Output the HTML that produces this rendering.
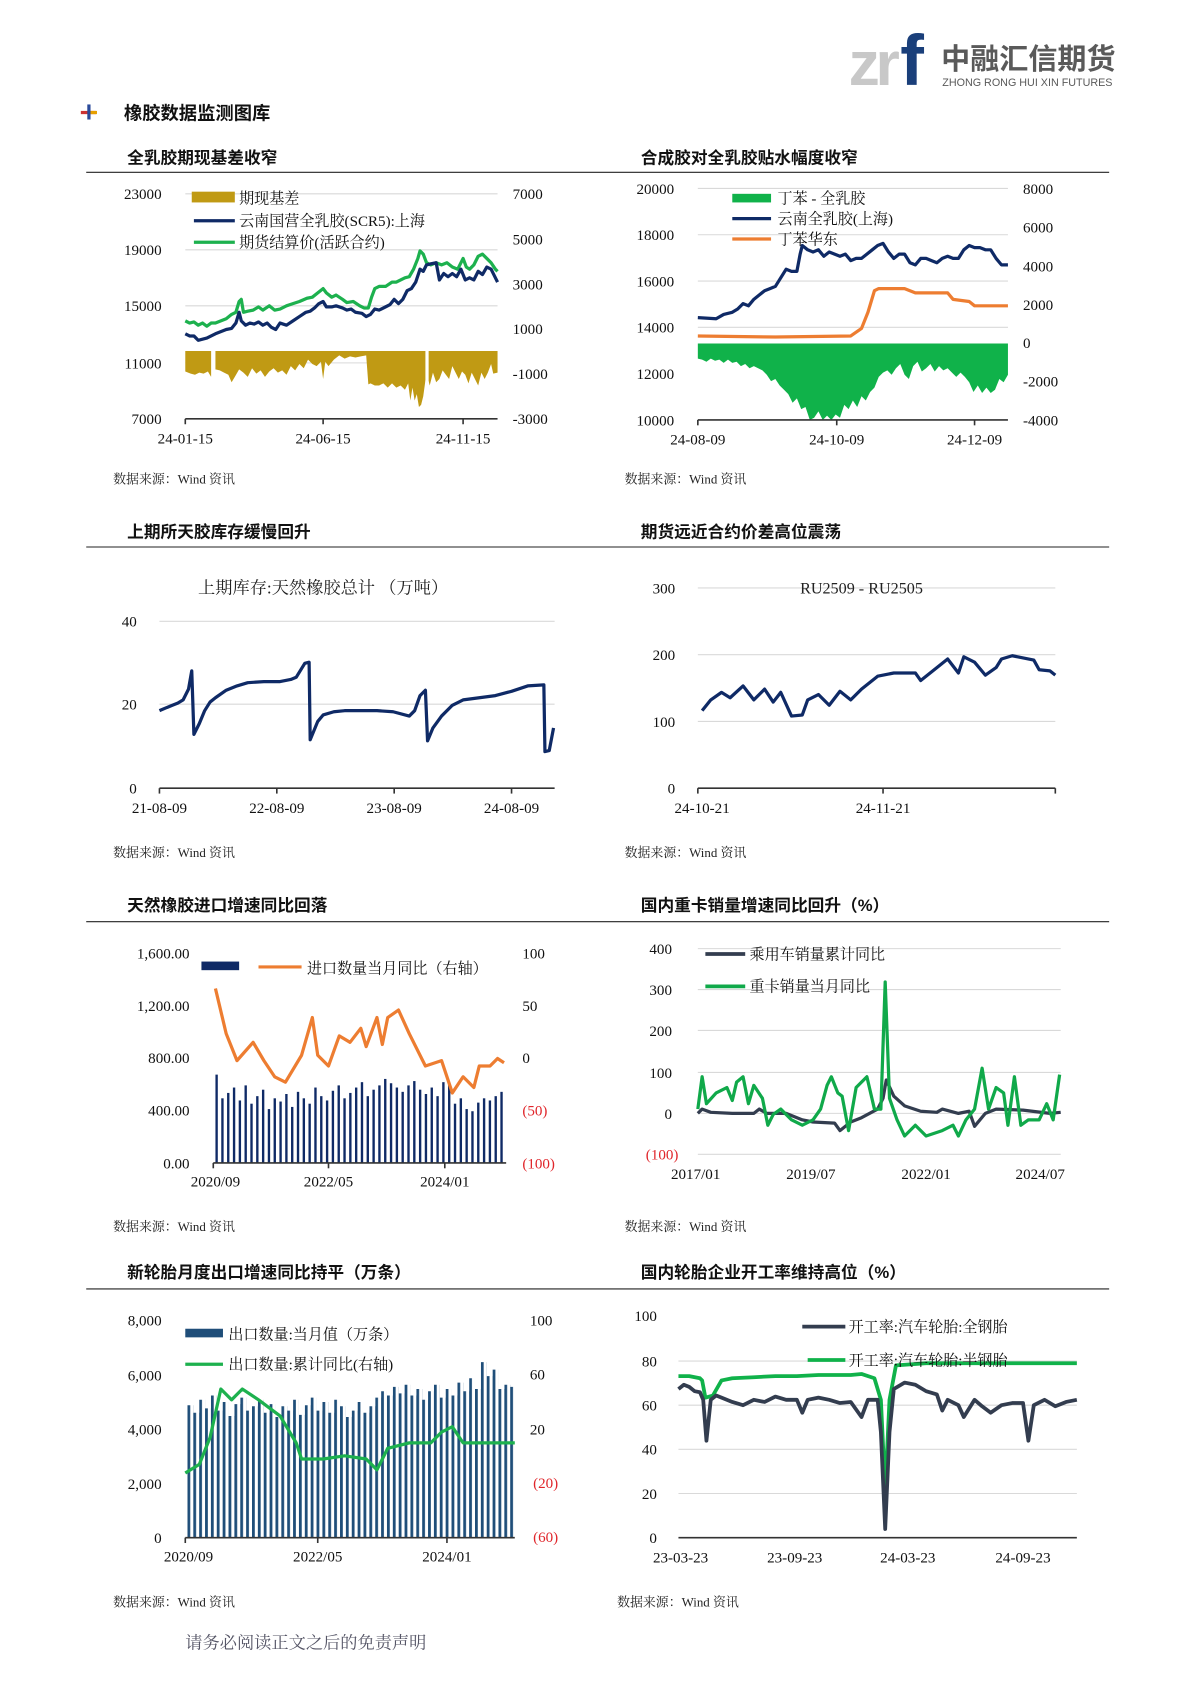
<!DOCTYPE html>
<html><head><meta charset="utf-8">
<style>
html,body{margin:0;padding:0;background:#fff;}
svg{display:block}
text{font-family:"Liberation Serif","Noto Serif CJK SC",serif;font-size:14px;fill:#111}
.h{font-size:15.5px;font-weight:bold;font-family:"Liberation Sans","Noto Sans CJK SC",sans-serif;fill:#111}
.s{font-size:12px;fill:#222}
.r{fill:#e0252a}
.m{text-anchor:middle}.e{text-anchor:end}
.g line{stroke:#d9d9d9;stroke-width:1}
.ax{stroke:#333;stroke-width:1.5}
polyline{fill:none;stroke-linejoin:round}
</style></head><body>
<svg width="1190" height="1683" viewBox="0 0 1105 1563" xmlns="http://www.w3.org/2000/svg">
<text x="788" y="79" style="font-family:'Liberation Sans',sans-serif;font-size:58px;font-weight:bold;fill:#c8c8c8;letter-spacing:-4px">zr</text>
<text x="836" y="79" style="font-family:'Liberation Sans',sans-serif;font-size:66px;font-weight:bold;fill:#1a3f7a">f</text>
<text x="874" y="64" style="font-family:'Noto Sans CJK SC',sans-serif;font-size:27px;font-weight:bold;fill:#5a5a5a">中融汇信期货</text>
<text x="875" y="80" style="font-family:'Liberation Sans',sans-serif;font-size:10px;fill:#5a5a5a">ZHONG RONG HUI XIN FUTURES</text>
<rect x="75" y="103" width="14" height="3" fill="#c33"/><rect x="81" y="97" width="3" height="14" fill="#2a4a9a"/><rect x="84" y="103" width="6" height="3" fill="#e7a000"/>
<text x="115" y="111" style="font-family:'Noto Sans CJK SC',sans-serif;font-size:17px;font-weight:bold">橡胶数据监测图库</text>
<text class="h" x="118" y="152">全乳胶期现基差收窄</text>
<text class="h" x="595" y="152">合成胶对全乳胶贴水幅度收窄</text>
<line x1="80" y1="160" x2="1030" y2="160" stroke="#222"/>
<text class="h" x="118" y="499">上期所天胶库存缓慢回升</text>
<text class="h" x="595" y="499">期货远近合约价差高位震荡</text>
<line x1="80" y1="508" x2="1030" y2="508" stroke="#222"/>
<text class="h" x="118" y="846">天然橡胶进口增速同比回落</text>
<text class="h" x="595" y="846">国内重卡销量增速同比回升（%）</text>
<line x1="80" y1="856" x2="1030" y2="856" stroke="#222"/>
<text class="h" x="118" y="1187">新轮胎月度出口增速同比持平（万条）</text>
<text class="h" x="595" y="1187">国内轮胎企业开工率维持高位（%）</text>
<line x1="80" y1="1197" x2="1030" y2="1197" stroke="#222"/>
<g class="s">
<text class="s" x="105" y="449">数据来源：Wind 资讯</text><text class="s" x="580" y="449">数据来源：Wind 资讯</text>
<text class="s" x="105" y="796">数据来源：Wind 资讯</text><text class="s" x="580" y="796">数据来源：Wind 资讯</text>
<text class="s" x="105" y="1143">数据来源：Wind 资讯</text><text class="s" x="580" y="1143">数据来源：Wind 资讯</text>
<text class="s" x="105" y="1492">数据来源：Wind 资讯</text><text class="s" x="573" y="1492">数据来源：Wind 资讯</text>
</g>
<text x="172" y="1531" style="font-size:16px;fill:#556">请务必阅读正文之后的免责声明</text>

<!-- CHART 1 -->
<g class="g"><line x1="172" y1="180" x2="462" y2="180"/><line x1="172" y1="232" x2="462" y2="232"/><line x1="172" y1="284" x2="462" y2="284"/><line x1="172" y1="337" x2="462" y2="337"/></g>
<text class="e" x="150" y="185">23000</text><text class="e" x="150" y="237">19000</text><text class="e" x="150" y="289">15000</text><text class="e" x="150" y="342">11000</text><text class="e" x="150" y="394">7000</text>
<text x="476" y="185">7000</text><text x="476" y="227">5000</text><text x="476" y="269">3000</text><text x="476" y="310">1000</text><text x="476" y="352">-1000</text><text x="476" y="394">-3000</text>
<polygon fill="#C09A14" points="172,326 462,326 462,346 458,347 456,338 453,346 450,352 447,346 444,358 441,352 438,346 435,356 432,348 429,345 426,352 423,346 420,340 417,352 414,348 411,344 408,352 405,355 402,346 399,358 396,346 393,368 391,376 389,378 387,366 385,372 383,360 381,372 379,356 376,362 372,358 368,360 364,356 360,360 356,356 352,358 348,358 344,356 342,357 340,330 335,331 330,332 325,331 320,333 315,330 310,334 305,340 302,336 300,352 298,336 294,340 290,338 286,334 282,342 278,338 274,344 270,340 266,348 262,344 258,346 254,342 250,345 246,350 242,344 238,347 234,342 230,350 226,346 222,343 218,350 215,355 212,348 208,346 204,344 200,343 196,350 193,345 189,347 185,346 181,348 177,347 172,345"/>
<rect x="196" y="324" width="4" height="40" fill="#fff"/><rect x="395" y="324" width="3" height="40" fill="#fff"/>
<polyline stroke="#1DB14E" stroke-width="3" points="172,298 176,300 180,299 184,302 188,300 192,303 196,300 200,300 205,298 210,296 215,292 219,290 222,280 224,278 226,290 230,289 235,288 240,285 244,288 250,284 255,288 260,287 266,284 272,282 278,280 285,277 290,276 295,272 300,268 303,272 308,276 312,274 318,278 322,281 328,280 334,284 338,286 342,286 345,276 348,268 352,266 358,266 364,262 368,262 372,260 376,258 380,257 384,250 388,240 390,233 393,236 396,244 400,246 405,244 410,246 415,244 420,248 425,250 430,240 433,248 436,250 440,246 444,238 448,236 452,240 456,244 460,250 462,252"/>
<polyline stroke="#0F2A66" stroke-width="3" points="172,310 176,312 180,312 184,316 188,315 192,314 196,312 200,310 205,308 210,306 215,305 219,300 222,290 224,298 228,302 232,300 236,301 240,299 244,302 248,300 252,304 256,306 260,300 266,302 272,298 278,294 284,290 288,289 292,286 296,282 300,280 303,285 308,285 312,284 318,286 322,288 326,287 330,290 336,291 340,294 344,292 348,287 352,288 358,285 362,283 366,278 370,282 374,278 378,270 382,268 386,262 390,250 393,252 396,246 400,245 405,244 408,260 412,254 416,257 420,254 424,257 428,250 432,260 436,258 440,260 444,252 448,255 452,248 456,250 460,258 462,262"/>
<line class="ax" x1="172" y1="389" x2="462" y2="389"/><line class="ax" x1="172" y1="389" x2="172" y2="394"/><line class="ax" x1="300" y1="389" x2="300" y2="394"/><line class="ax" x1="430" y1="389" x2="430" y2="394"/>
<text class="m" x="172" y="412">24-01-15</text><text class="m" x="300" y="412">24-06-15</text><text class="m" x="430" y="412">24-11-15</text>
<rect x="178" y="178" width="40" height="10" fill="#C09A14"/><text x="222" y="189">期现基差</text>
<line x1="180" y1="205" x2="218" y2="205" stroke="#0F2A66" stroke-width="3"/><text x="222" y="210">云南国营全乳胶(SCR5):上海</text>
<line x1="180" y1="225" x2="218" y2="225" stroke="#1DB14E" stroke-width="3"/><text x="222" y="230">期货结算价(活跃合约)</text>

<!-- CHART 2 -->
<g class="g"><line x1="648" y1="175" x2="936" y2="175"/><line x1="648" y1="218" x2="936" y2="218"/><line x1="648" y1="261" x2="936" y2="261"/><line x1="648" y1="304" x2="936" y2="304"/></g>
<text class="e" x="626" y="180">20000</text><text class="e" x="626" y="223">18000</text><text class="e" x="626" y="266">16000</text><text class="e" x="626" y="309">14000</text><text class="e" x="626" y="352">12000</text><text class="e" x="626" y="395">10000</text>
<text x="950" y="180">8000</text><text x="950" y="216">6000</text><text x="950" y="252">4000</text><text x="950" y="288">2000</text><text x="950" y="323">0</text><text x="950" y="359">-2000</text><text x="950" y="395">-4000</text>
<polygon fill="#10B24A" points="648,319 936,319 936,348 932,355 928,352 924,362 920,365 916,360 912,365 908,358 904,364 900,355 896,350 892,346 888,350 884,346 880,342 876,344 872,340 868,345 864,338 860,342 856,345 852,336 848,340 844,352 840,348 836,338 832,342 828,348 824,344 820,346 816,350 812,360 808,364 804,372 800,368 796,378 792,372 788,380 784,376 780,388 776,385 772,390 768,386 764,390 760,382 756,388 752,390 748,378 744,380 740,370 736,374 732,366 728,362 724,358 720,352 716,354 712,348 708,344 704,342 700,340 696,342 692,338 688,340 684,336 680,337 676,334 672,337 668,334 664,335 660,333 656,336 652,334 648,333"/>
<polyline stroke="#ED7D31" stroke-width="3" points="648,312 720,313 790,312 800,305 806,290 812,270 816,268 840,268 850,272 880,272 885,278 900,280 905,284 936,284"/>
<polyline stroke="#0F2A66" stroke-width="3" points="648,295 665,296 672,292 680,290 685,287 690,282 695,284 700,278 705,274 710,270 715,268 720,266 725,258 730,250 735,252 740,252 743,236 745,228 750,232 755,234 760,232 765,238 770,234 775,236 780,238 785,236 790,242 795,240 800,240 805,236 810,232 815,228 820,226 825,234 830,240 835,236 840,236 845,244 850,246 855,240 860,240 865,242 870,244 875,240 880,238 885,240 890,240 895,232 900,228 905,230 910,230 915,232 920,232 925,240 930,246 936,246"/>
<line class="ax" x1="648" y1="390" x2="936" y2="390"/><line class="ax" x1="648" y1="390" x2="648" y2="395"/><line class="ax" x1="777" y1="390" x2="777" y2="395"/><line class="ax" x1="905" y1="390" x2="905" y2="395"/>
<text class="m" x="648" y="413">24-08-09</text><text class="m" x="777" y="413">24-10-09</text><text class="m" x="905" y="413">24-12-09</text>
<rect x="680" y="180" width="36" height="8" fill="#10B24A"/><text x="722" y="189">丁苯 - 全乳胶</text>
<line x1="680" y1="203" x2="716" y2="203" stroke="#0F2A66" stroke-width="3"/><text x="722" y="208">云南全乳胶(上海)</text>
<line x1="680" y1="222" x2="716" y2="222" stroke="#ED7D31" stroke-width="3"/><text x="722" y="227">丁苯华东</text>

<!-- CHART 3 -->
<g class="g"><line x1="148" y1="577" x2="515" y2="577"/><line x1="148" y1="654" x2="515" y2="654"/></g>
<text class="m" x="300" y="551" style="font-size:16px;fill:#222">上期库存:天然橡胶总计  （万吨）</text>
<text class="e" x="127" y="582">40</text><text class="e" x="127" y="659">20</text><text class="e" x="127" y="737">0</text>
<polyline stroke="#0F2A66" stroke-width="3" points="148,660 155,657 160,655 165,653 170,650 175,640 178,623 180,682 185,672 190,660 195,652 200,648 210,641 220,637 230,634 245,633 260,633 270,631 275,629 283,616 287,615 288,687 295,670 300,664 310,661 320,660 335,660 350,660 365,661 380,665 385,660 390,646 395,641 397,688 402,676 410,665 420,655 430,650 445,648 460,646 475,642 490,637 505,636 506,698 510,697 514,676"/>
<line class="ax" x1="148" y1="732" x2="515" y2="732"/><line class="ax" x1="148" y1="732" x2="148" y2="737"/><line class="ax" x1="257" y1="732" x2="257" y2="737"/><line class="ax" x1="366" y1="732" x2="366" y2="737"/><line class="ax" x1="475" y1="732" x2="475" y2="737"/>
<text class="m" x="148" y="755">21-08-09</text><text class="m" x="257" y="755">22-08-09</text><text class="m" x="366" y="755">23-08-09</text><text class="m" x="475" y="755">24-08-09</text>

<!-- CHART 4 -->
<g class="g"><line x1="648" y1="546" x2="980" y2="546"/><line x1="648" y1="608" x2="980" y2="608"/><line x1="648" y1="670" x2="980" y2="670"/></g>
<text class="m" x="800" y="551" style="font-size:15px;fill:#222">RU2509 - RU2505</text>
<text class="e" x="627" y="551">300</text><text class="e" x="627" y="613">200</text><text class="e" x="627" y="675">100</text><text class="e" x="627" y="737">0</text>
<polyline stroke="#0F2A66" stroke-width="3" points="652,660 660,650 670,643 678,648 690,637 700,650 710,640 718,652 725,643 735,665 745,664 750,650 760,645 770,655 780,642 790,650 800,640 815,628 830,625 850,625 855,632 870,620 880,612 890,625 895,610 905,615 915,627 925,620 930,612 940,609 960,613 965,622 975,623 980,627"/>
<line class="ax" x1="648" y1="732" x2="980" y2="732"/><line class="ax" x1="648" y1="732" x2="648" y2="737"/><line class="ax" x1="820" y1="732" x2="820" y2="737"/><line class="ax" x1="980" y1="732" x2="980" y2="737"/>
<text class="m" x="652" y="755">24-10-21</text><text class="m" x="820" y="755">24-11-21</text>

<!-- CHART 5 -->
<text class="e" x="176" y="890">1,600.00</text><text class="e" x="176" y="939">1,200.00</text><text class="e" x="176" y="987">800.00</text><text class="e" x="176" y="1036">400.00</text><text class="e" x="176" y="1085">0.00</text>
<text x="485" y="890">100</text><text x="485" y="939">50</text><text x="485" y="987">0</text><text class="r" x="485" y="1036">(50)</text><text class="r" x="485" y="1085">(100)</text>
<g fill="#0F2A66">
<rect x="200" y="998" width="2.2" height="82"/><rect x="205.4" y="1020" width="2.2" height="60"/><rect x="210.8" y="1015" width="2.2" height="65"/><rect x="216.2" y="1010" width="2.2" height="70"/><rect x="221.6" y="1022" width="2.2" height="58"/><rect x="227" y="1008" width="2.2" height="72"/><rect x="232.4" y="1025" width="2.2" height="55"/><rect x="237.8" y="1018" width="2.2" height="62"/><rect x="243.2" y="1012" width="2.2" height="68"/><rect x="248.6" y="1030" width="2.2" height="50"/>
<rect x="254" y="1020" width="2.2" height="60"/><rect x="259.4" y="1023" width="2.2" height="57"/><rect x="264.8" y="1016" width="2.2" height="64"/><rect x="270.2" y="1028" width="2.2" height="52"/><rect x="275.6" y="1014" width="2.2" height="66"/><rect x="281" y="1020" width="2.2" height="60"/><rect x="286.4" y="1025" width="2.2" height="55"/><rect x="291.8" y="1010" width="2.2" height="70"/><rect x="297.2" y="1018" width="2.2" height="62"/><rect x="302.6" y="1022" width="2.2" height="58"/>
<rect x="308" y="1013" width="2.2" height="67"/><rect x="313.4" y="1008" width="2.2" height="72"/><rect x="318.8" y="1020" width="2.2" height="60"/><rect x="324.2" y="1015" width="2.2" height="65"/><rect x="329.6" y="1010" width="2.2" height="70"/><rect x="335" y="1005" width="2.2" height="75"/><rect x="340.4" y="1018" width="2.2" height="62"/><rect x="345.8" y="1012" width="2.2" height="68"/><rect x="351.2" y="1008" width="2.2" height="72"/><rect x="356.6" y="1002" width="2.2" height="78"/>
<rect x="362" y="1006" width="2.2" height="74"/><rect x="367.4" y="1010" width="2.2" height="70"/><rect x="372.8" y="1014" width="2.2" height="66"/><rect x="378.2" y="1008" width="2.2" height="72"/><rect x="383.6" y="1004" width="2.2" height="76"/><rect x="389" y="1012" width="2.2" height="68"/><rect x="394.4" y="1016" width="2.2" height="64"/><rect x="399.8" y="1010" width="2.2" height="70"/><rect x="405.2" y="1018" width="2.2" height="62"/><rect x="410.6" y="1005" width="2.2" height="75"/>
<rect x="416" y="1006" width="2.2" height="74"/><rect x="421.4" y="1025" width="2.2" height="55"/><rect x="426.8" y="1020" width="2.2" height="60"/><rect x="432.2" y="1030" width="2.2" height="50"/><rect x="437.6" y="1032" width="2.2" height="48"/><rect x="443" y="1024" width="2.2" height="56"/><rect x="448.4" y="1020" width="2.2" height="60"/><rect x="453.8" y="1022" width="2.2" height="58"/><rect x="459.2" y="1018" width="2.2" height="62"/><rect x="464.6" y="1014" width="2.2" height="66"/>
</g>
<polyline stroke="#ED7D31" stroke-width="3" points="200,918 210,960 220,985 235,968 245,985 255,1000 265,1005 280,980 290,945 295,980 305,990 315,962 325,968 335,955 340,972 350,945 355,970 360,945 370,938 380,960 395,990 410,985 420,1015 430,1000 440,1010 445,990 455,990 462,983 468,987"/>
<line class="ax" x1="198" y1="1080" x2="470" y2="1080"/><line class="ax" x1="198" y1="1080" x2="198" y2="1085"/><line class="ax" x1="305" y1="1080" x2="305" y2="1085"/><line class="ax" x1="413" y1="1080" x2="413" y2="1085"/>
<text class="m" x="200" y="1102">2020/09</text><text class="m" x="305" y="1102">2022/05</text><text class="m" x="413" y="1102">2024/01</text>
<rect x="187" y="893" width="35" height="8" fill="#0F2A66"/><line x1="240" y1="898" x2="280" y2="898" stroke="#ED7D31" stroke-width="3"/><text x="285" y="904">进口数量当月同比（右轴）</text>

<!-- CHART 6 -->
<g class="g"><line x1="648" y1="881" x2="985" y2="881"/><line x1="648" y1="919" x2="985" y2="919"/><line x1="648" y1="957" x2="985" y2="957"/><line x1="648" y1="996" x2="985" y2="996"/><line x1="648" y1="1034" x2="985" y2="1034"/><line x1="648" y1="1072" x2="985" y2="1072"/></g>
<text class="e" x="624" y="886">400</text><text class="e" x="624" y="924">300</text><text class="e" x="624" y="962">200</text><text class="e" x="624" y="1001">100</text><text class="e" x="624" y="1039">0</text><text class="e r" x="630" y="1077">(100)</text>
<polyline stroke="#333D4F" stroke-width="3" points="648,1034 652,1030 660,1033 680,1034 700,1034 705,1030 712,1034 730,1034 745,1040 755,1042 775,1043 780,1050 790,1042 800,1038 815,1030 820,1020 823,1003 830,1018 840,1027 855,1032 870,1033 875,1030 890,1034 900,1032 905,1046 915,1034 925,1030 950,1031 975,1034 985,1033"/>
<polyline stroke="#10A94A" stroke-width="3" points="648,1030 652,1000 656,1025 665,1015 675,1010 680,1022 684,1005 690,1000 695,1025 700,1008 708,1020 713,1045 718,1035 725,1030 735,1040 745,1045 755,1040 762,1030 768,1008 772,1000 778,1015 782,1018 788,1050 795,1010 805,1000 812,1030 818,1030 822,912 826,1020 833,1040 840,1055 850,1045 860,1055 875,1050 885,1045 890,1055 897,1040 905,1030 912,992 918,1030 925,1010 932,1015 936,1045 942,1000 948,1045 955,1040 965,1040 972,1025 978,1040 984,998"/>
<text class="m" x="646" y="1095">2017/01</text><text class="m" x="753" y="1095">2019/07</text><text class="m" x="860" y="1095">2022/01</text><text class="m" x="966" y="1095">2024/07</text>
<line x1="655" y1="886" x2="692" y2="886" stroke="#333D4F" stroke-width="3.5"/><text x="696" y="891">乘用车销量累计同比</text>
<line x1="655" y1="916" x2="692" y2="916" stroke="#10A94A" stroke-width="3.5"/><text x="696" y="921">重卡销量当月同比</text>

<!-- CHART 7 -->
<text class="e" x="150" y="1231">8,000</text><text class="e" x="150" y="1282">6,000</text><text class="e" x="150" y="1332">4,000</text><text class="e" x="150" y="1383">2,000</text><text class="e" x="150" y="1433">0</text>
<text x="492" y="1231">100</text><text x="492" y="1281">60</text><text x="492" y="1332">20</text><text class="r" x="495" y="1382">(20)</text><text class="r" x="495" y="1432">(60)</text>
<defs><pattern id="st" width="5.45" height="10" patternUnits="userSpaceOnUse" x="174"><rect x="0" y="0" width="2.6" height="10" fill="#1F4E79"/></pattern></defs>
<polygon fill="url(#st)" points="174,1428 174,1305 179.45,1305 179.45,1312 184.9,1312 184.9,1300 190.35,1300 190.35,1308 195.8,1308 195.8,1296 201.25,1296 201.25,1310 206.7,1310 206.7,1302 212.15,1302 212.15,1315 217.6,1315 217.6,1304 223.05,1304 223.05,1298 228.5,1298 228.5,1310 233.95,1310 233.95,1306 239.4,1306 239.4,1300 244.85,1300 244.85,1312 250.3,1312 250.3,1304 255.75,1304 255.75,1316 261.2,1316 261.2,1306 266.65,1306 266.65,1310 272.1,1310 272.1,1300 277.55,1300 277.55,1314 283,1314 283,1305 288.45,1305 288.45,1298 293.9,1298 293.9,1310 299.35,1310 299.35,1302 304.8,1302 304.8,1312 310.25,1312 310.25,1300 315.7,1300 315.7,1306 321.15,1306 321.15,1316 326.6,1316 326.6,1310 332.05,1310 332.05,1302 337.5,1302 337.5,1312 342.95,1312 342.95,1306 348.4,1306 348.4,1298 353.85,1298 353.85,1292 359.3,1292 359.3,1296 364.75,1296 364.75,1288 370.2,1288 370.2,1294 375.65,1294 375.65,1286 381.1,1286 381.1,1296 386.55,1296 386.55,1290 392,1290 392,1300 397.45,1300 397.45,1292 402.9,1292 402.9,1286 408.35,1286 408.35,1298 413.8,1298 413.8,1290 419.25,1290 419.25,1296 424.7,1296 424.7,1284 430.15,1284 430.15,1292 435.6,1292 435.6,1280 441.05,1280 441.05,1290 446.5,1290 446.5,1265 451.95,1265 451.95,1278 457.4,1278 457.4,1272 462.85,1272 462.85,1290 468.3,1290 468.3,1286 473.75,1286 473.75,1288 478,1288 478,1428"/>
<polyline stroke="#1DB14E" stroke-width="3" points="172,1368 185,1360 195,1335 205,1290 215,1300 225,1290 240,1300 260,1315 275,1340 280,1355 300,1355 320,1352 340,1355 350,1365 360,1345 380,1340 400,1340 410,1330 420,1325 430,1340 478,1340"/>
<line class="ax" x1="172" y1="1428" x2="478" y2="1428"/><line class="ax" x1="172" y1="1428" x2="172" y2="1433"/><line class="ax" x1="295" y1="1428" x2="295" y2="1433"/><line class="ax" x1="415" y1="1428" x2="415" y2="1433"/>
<text class="m" x="175" y="1450">2020/09</text><text class="m" x="295" y="1450">2022/05</text><text class="m" x="415" y="1450">2024/01</text>
<rect x="172" y="1234" width="35" height="8" fill="#1F4E79"/><text x="212" y="1244">出口数量:当月值（万条）</text>
<line x1="172" y1="1267" x2="207" y2="1267" stroke="#1DB14E" stroke-width="3"/><text x="212" y="1272">出口数量:累计同比(右轴)</text>

<!-- CHART 8 -->
<g class="g"><line x1="630" y1="1264" x2="1000" y2="1264"/><line x1="630" y1="1305" x2="1000" y2="1305"/><line x1="630" y1="1346" x2="1000" y2="1346"/><line x1="630" y1="1387" x2="1000" y2="1387"/></g>
<text class="e" x="610" y="1227">100</text><text class="e" x="610" y="1269">80</text><text class="e" x="610" y="1310">60</text><text class="e" x="610" y="1351">40</text><text class="e" x="610" y="1392">20</text><text class="e" x="610" y="1433">0</text>
<polyline stroke="#10B24A" stroke-width="3.5" points="630,1278 640,1278 650,1280 652,1282 655,1298 662,1296 670,1282 680,1280 700,1279 720,1278 740,1278 760,1277 790,1277 800,1276 812,1280 818,1300 822,1385 826,1300 832,1268 860,1266 900,1266 950,1266 1000,1266"/>
<polyline stroke="#333D4F" stroke-width="3.5" points="630,1290 635,1286 640,1288 645,1292 650,1293 653,1300 656,1338 660,1300 665,1296 670,1298 680,1302 690,1305 700,1300 710,1302 720,1297 730,1300 740,1300 745,1312 750,1300 760,1298 770,1300 780,1303 790,1302 800,1316 806,1300 815,1300 818,1330 822,1420 826,1330 830,1290 840,1284 850,1286 860,1292 870,1295 875,1310 880,1300 890,1305 895,1316 905,1300 912,1306 920,1312 930,1305 940,1303 950,1303 955,1338 960,1305 970,1300 980,1306 990,1302 1000,1300"/>
<line class="ax" x1="630" y1="1428" x2="1000" y2="1428"/>
<text class="m" x="632" y="1451">23-03-23</text><text class="m" x="738" y="1451">23-09-23</text><text class="m" x="843" y="1451">24-03-23</text><text class="m" x="950" y="1451">24-09-23</text>
<line x1="745" y1="1232" x2="785" y2="1232" stroke="#333D4F" stroke-width="3.5"/><text x="788" y="1237">开工率:汽车轮胎:全钢胎</text>
<line x1="750" y1="1263" x2="785" y2="1263" stroke="#10B24A" stroke-width="3.5"/><text x="788" y="1268">开工率:汽车轮胎:半钢胎</text>
</svg>
</body></html>
